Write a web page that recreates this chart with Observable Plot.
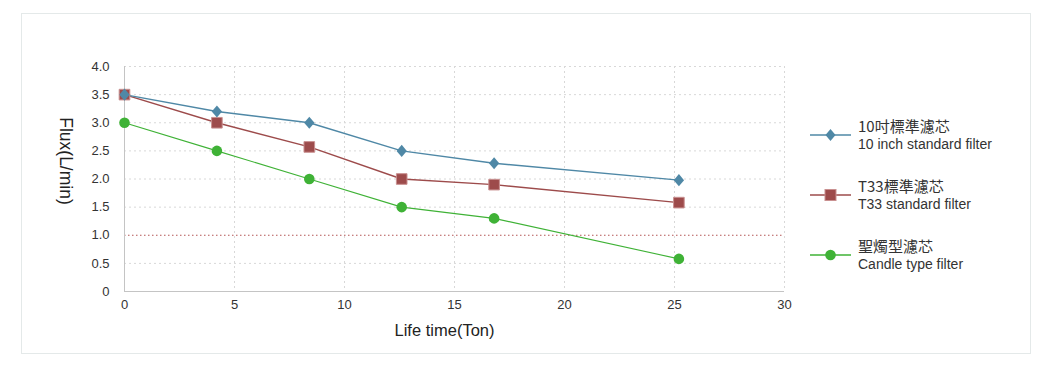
<!DOCTYPE html>
<html>
<head>
<meta charset="utf-8">
<script src="https://cdn.jsdelivr.net/npm/d3@7"></script>
<script src="https://cdn.jsdelivr.net/npm/@observablehq/plot@0.6"></script>
<style>
  html, body { margin: 0; padding: 0; background: #fff; }
  #wrap { position: relative; width: 1054px; height: 367px; overflow: hidden; font-family: "Liberation Sans", Arial, sans-serif; }
  #frame { position: absolute; left: 21px; top: 13px; width: 1008px; height: 339px; border: 1px solid #e4e9e9; }
  #chart { position: absolute; left: 0; top: 0; }
  #legend { position: absolute; left: 810px; top: 105px; }
  .row { display: flex; align-items: center; height: 60px; }
  .row svg { width: 41px; height: 20px; margin-right: 7px; }
  .txt { line-height: 18px; color: #333; }
  .zh { font-family: "Noto Sans CJK TC", "Liberation Sans", sans-serif; font-size: 15px; }
  .en { font-size: 14px; }
</style>
</head>
<body>
<div id="wrap">
  <div id="frame"></div>
  <div id="chart"></div>
  <div id="legend"></div>
</div>
<script>
const lifeTime = [0, 4.2, 8.4, 12.6, 16.8, 25.2];
const flux10inch = [3.5, 3.2, 3.0, 2.5, 2.28, 1.98];
const fluxT33 = [3.5, 3.0, 2.57, 2.0, 1.9, 1.58];
const fluxCandle = [3.0, 2.5, 2.0, 1.5, 1.3, 0.58];
const seriesZh = ["10吋標準濾芯", "T33標準濾芯", "聖燭型濾芯"];
const seriesEn = ["10 inch standard filter", "T33 standard filter", "Candle type filter"];
const seriesColors = ["#4f88a6", "#9d4b4b", "#3fb236"];
const seriesSymbols = ["diamond", "square", "circle"];
const xTicks = [0, 5, 10, 15, 20, 25, 30];
const yTicks = [0, 0.5, 1.0, 1.5, 2.0, 2.5, 3.0, 3.5, 4.0];
const threshold = [1.0];
const xLabel = "Life time(Ton)";
const yLabel = "Flux(L/min)";

const seriesValues = [flux10inch, fluxT33, fluxCandle];
const rows = [];
seriesValues.forEach((vals, i) => {
  vals.forEach((v, j) => rows.push({ series: i, x: lifeTime[j], y: v }));
});
const bySeries = i => rows.filter(d => d.series === i);
const drawOrder = [2, 1, 0];

const rhombus = {
  draw(ctx, size) {
    const r = Math.sqrt(size / Math.PI);
    const w = r * 0.92, h = r * 1.08;
    ctx.moveTo(0, -h); ctx.lineTo(w, 0); ctx.lineTo(0, h); ctx.lineTo(-w, 0); ctx.closePath();
  }
};
const symbolFor = { diamond: rhombus, square: "square", circle: "circle" };
const sizeFor = { diamond: 5.6, square: 6.0, circle: 5.3 };

const marks = [
  Plot.gridX(xTicks.filter(d => d > 0), { stroke: "#d8d8d8", strokeOpacity: 1, strokeDasharray: "2,3" }),
  Plot.gridY(yTicks.filter(d => d > 0 && d !== 1), { stroke: "#d8d8d8", strokeOpacity: 1, strokeDasharray: "2,3" }),
  Plot.ruleY(threshold, { stroke: "#b45656", strokeDasharray: "1.5,2.5", strokeWidth: 1.2 }),
  Plot.ruleX([0], { stroke: "#c4c4c4" }),
  Plot.ruleY([0], { stroke: "#c4c4c4" }),
  Plot.axisX({ ticks: xTicks, tickSize: 0, tickPadding: 8, fontSize: 13, label: null, color: "#333" }),
  Plot.axisY({ ticks: yTicks, tickSize: 0, tickPadding: 15, fontSize: 13, label: null, color: "#333",
               tickFormat: d => d === 0 ? "0" : d.toFixed(1) }),
  Plot.text([xLabel], { frameAnchor: "bottom", dx: -10, dy: 44, fontSize: 16.5, fill: "#222" }),
  Plot.text([yLabel], { frameAnchor: "left", textAnchor: "middle", dx: -59, dy: -18, rotate: 90, fontSize: 17.5, fill: "#222" })
];
for (const i of drawOrder) {
  marks.push(Plot.line(bySeries(i), { x: "x", y: "y", stroke: seriesColors[i], strokeWidth: i === 2 ? 1.1 : 1.4 }));
}
for (const i of drawOrder) {
  const sym = seriesSymbols[i];
  marks.push(Plot.dot(bySeries(i), {
    x: "x", y: "y", symbol: symbolFor[sym], fill: seriesColors[i],
    stroke: i === 1 ? "#c99090" : "none", strokeWidth: 1,
    r: sizeFor[sym]
  }));
}

const chart = Plot.plot({
  width: 1054,
  height: 367,
  marginLeft: 124,
  marginRight: 270,
  marginTop: 66,
  marginBottom: 76,
  style: { fontFamily: "Liberation Sans, Arial, sans-serif", background: "transparent", overflow: "visible" },
  x: { domain: [0, 30] },
  y: { domain: [0, 4] },
  marks
});
document.getElementById("chart").appendChild(chart);

const legend = document.getElementById("legend");
const symPath = {
  diamond: '<path d="M20.5,4 L25.5,10 L20.5,16 L15.5,10 Z"/>',
  square: '<rect x="15" y="4.5" width="11" height="11" stroke="#c99090" stroke-width="1"/>',
  circle: '<circle cx="20.5" cy="10" r="5.3"/>'
};
seriesZh.forEach((zh, i) => {
  const row = document.createElement("div");
  row.className = "row";
  row.innerHTML =
    `<svg viewBox="0 0 41 20"><line x1="0" x2="41" y1="10" y2="10" stroke="${seriesColors[i]}" stroke-width="1.4"/>` +
    `<g fill="${seriesColors[i]}">${symPath[seriesSymbols[i]]}</g></svg>` +
    `<div class="txt"><div class="zh">${zh}</div><div class="en">${seriesEn[i]}</div></div>`;
  legend.appendChild(row);
});
</script>
</body>
</html>
